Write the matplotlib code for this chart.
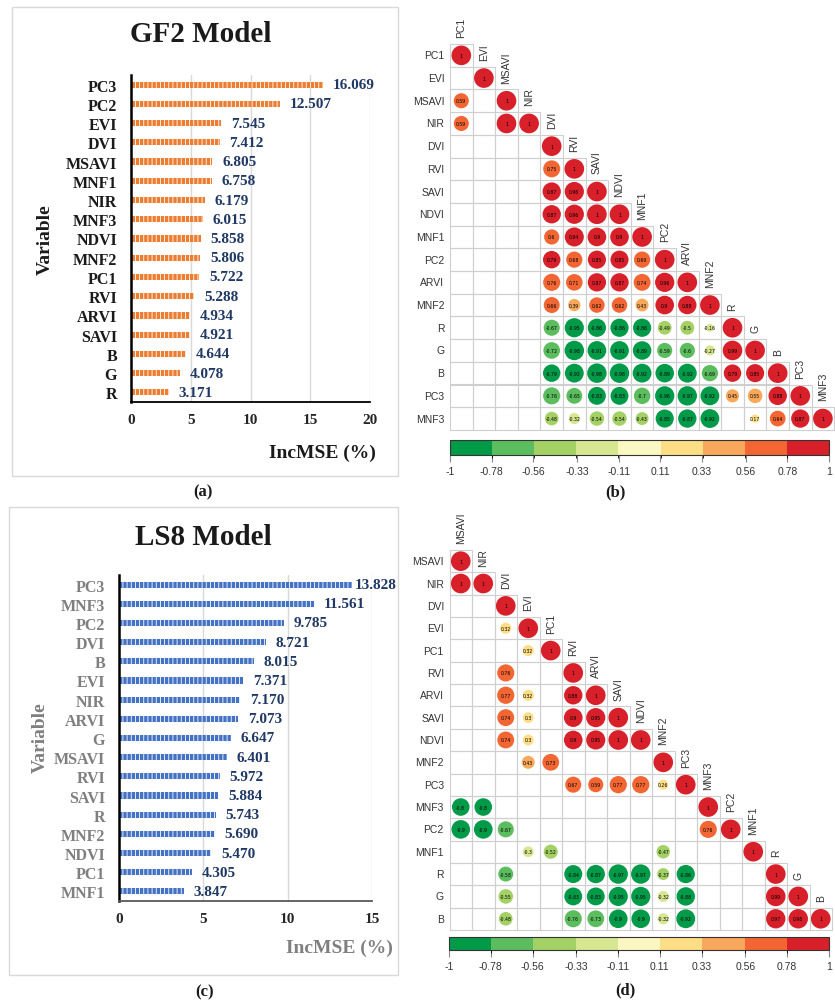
import numpy as np
import matplotlib
matplotlib.use("Agg")
import matplotlib.pyplot as plt
from matplotlib.patches import Rectangle
from matplotlib.colors import ListedColormap, BoundaryNorm
from matplotlib.colorbar import ColorbarBase

W, H = 835, 1004
plt.rcParams["hatch.linewidth"] = 0.6

# ---- importance data (top to bottom) ----
gf2_vars = ["PC3", "PC2", "EVI", "DVI", "MSAVI", "MNF1", "NIR", "MNF3", "NDVI",
            "MNF2", "PC1", "RVI", "ARVI", "SAVI", "B", "G", "R"]
gf2_inc = [16.069, 12.507, 7.545, 7.412, 6.805, 6.758, 6.179, 6.015, 5.858,
           5.806, 5.722, 5.288, 4.934, 4.921, 4.644, 4.078, 3.171]

ls8_vars = ["PC3", "MNF3", "PC2", "DVI", "B", "EVI", "NIR", "ARVI", "G", "MSAVI",
            "RVI", "SAVI", "R", "MNF2", "NDVI", "PC1", "MNF1"]
ls8_inc = [13.828, 11.561, 9.785, 8.721, 8.015, 7.371, 7.170, 7.073, 6.647, 6.401,
           5.972, 5.884, 5.743, 5.690, 5.470, 4.305, 3.847]

# ---- correlation matrices (lower triangle, None = blank) ----
_ = None
gf2_names = ["PC1", "EVI", "MSAVI", "NIR", "DVI", "RVI", "SAVI", "NDVI", "MNF1",
             "PC2", "ARVI", "MNF2", "R", "G", "B", "PC3", "MNF3"]
gf2_corr = [
    [1],
    [_, 1],
    [0.59, _, 1],
    [0.59, _, 1, 1],
    [_, _, _, _, 1],
    [_, _, _, _, 0.75, 1],
    [_, _, _, _, 0.87, 0.96, 1],
    [_, _, _, _, 0.87, 0.96, 1, 1],
    [_, _, _, _, 0.6, 0.94, 0.9, 0.9, 1],
    [_, _, _, _, 0.79, 0.68, 0.85, 0.85, 0.69, 1],
    [_, _, _, _, 0.76, 0.71, 0.87, 0.87, 0.74, 0.96, 1],
    [_, _, _, _, 0.66, 0.39, 0.62, 0.62, 0.43, 0.9, 0.88, 1],
    [_, _, _, _, -0.67, -0.95, -0.86, -0.86, -0.86, -0.49, -0.5, -0.16, 1],
    [_, _, _, _, -0.72, -0.98, -0.91, -0.91, -0.89, -0.59, -0.6, -0.27, 0.99, 1],
    [_, _, _, _, -0.79, -0.92, -0.98, -0.98, -0.92, -0.89, -0.92, -0.69, 0.79, 0.85, 1],
    [_, _, _, _, -0.76, -0.65, -0.83, -0.83, -0.7, -0.96, -0.97, -0.92, 0.45, 0.55, 0.88, 1],
    [_, _, _, _, -0.48, -0.32, -0.54, -0.54, -0.43, -0.85, -0.87, -0.92, _, 0.17, 0.64, 0.87, 1],
]

ls8_names = ["MSAVI", "NIR", "DVI", "EVI", "PC1", "RVI", "ARVI", "SAVI", "NDVI",
             "MNF2", "PC3", "MNF3", "PC2", "MNF1", "R", "G", "B"]
ls8_corr = [
    [1],
    [1, 1],
    [_, _, 1],
    [_, _, 0.32, 1],
    [_, _, _, 0.32, 1],
    [_, _, 0.76, _, _, 1],
    [_, _, 0.77, 0.32, _, 0.88, 1],
    [_, _, 0.74, 0.3, _, 0.9, 0.95, 1],
    [_, _, 0.74, 0.3, _, 0.9, 0.95, 1, 1],
    [_, _, _, 0.43, 0.73, _, _, _, _, 1],
    [_, _, _, _, _, 0.67, 0.59, 0.77, 0.77, 0.26, 1],
    [-0.8, -0.8, _, _, _, _, _, _, _, _, _, 1],
    [-0.9, -0.9, -0.67, _, _, _, _, _, _, _, _, 0.76, 1],
    [_, _, _, -0.3, -0.52, _, _, _, _, -0.47, _, _, _, 1],
    [_, _, -0.58, _, _, -0.84, -0.87, -0.97, -0.97, -0.37, -0.86, _, _, _, 1],
    [_, _, -0.55, _, _, -0.83, -0.83, -0.95, -0.95, -0.32, -0.88, _, _, _, 0.99, 1],
    [_, _, -0.48, _, _, -0.76, -0.73, -0.9, -0.9, -0.32, -0.92, _, _, _, 0.97, 0.98, 1],
]

bin_colors = ["#019a49", "#5cbd5e", "#a4d165", "#d7e691", "#fbf7c3",
              "#fddd85", "#f8a85b", "#f26634", "#d7202a"]
cbar_ticks = [-1, -0.78, -0.56, -0.33, -0.11, 0.11, 0.33, 0.56, 0.78, 1]
cbar_labels = ["-1", "-0.78", "-0.56", "-0.33", "-0.11", "0.11", "0.33", "0.56", "0.78", "1"]

serif = "Liberation Serif"
sans = "Liberation Sans"


def rect(l, t, r, b):
    return [l / W, 1 - b / H, (r - l) / W, (b - t) / H]


fig = plt.figure(figsize=(W / 100, H / 100), dpi=100)


def bar_panel(box, ax_box, names, vals, color, xmax, title, title_xy, lab_color,
              var_xy, inc_xy, cap, cap_xy, bottom_color, pads):
    fig.patches.append(Rectangle((box[0] / W, 1 - box[3] / H), (box[2] - box[0]) / W,
                                 (box[3] - box[1]) / H, transform=fig.transFigure,
                                 fill=False, ec="#d9d9d9", lw=1))
    ax = fig.add_axes(rect(*ax_box))
    n = len(names)
    y = np.arange(n)[::-1]
    ax.barh(y, vals, height=0.32, facecolor=color, edgecolor="#ffffff", hatch="|" * 4, lw=0)
    ax.set_xlim(0, xmax)
    ax.set_ylim(-0.5, n - 0.5)
    ax.set_yticks(y)
    ax.set_yticklabels(names, fontsize=11.5, fontweight="bold", family=serif, color=lab_color)
    ax.set_xticks(np.arange(0, xmax + 1, 5))
    ax.tick_params(axis="x", labelsize=11, length=0, pad=8, labelcolor="#262626")
    ax.tick_params(axis="y", length=0, pad=10)
    for t in ax.get_xticklabels():
        t.set_fontweight("bold")
        t.set_family(serif)
    ax.grid(axis="x", color="#d9d9d9", lw=1)
    ax.set_axisbelow(True)
    for s in ["top", "right"]:
        ax.spines[s].set_visible(False)
    ax.spines["left"].set_linewidth(1.8)
    ax.spines["left"].set_color("black")
    ax.spines["bottom"].set_linewidth(1.3)
    ax.spines["bottom"].set_color(bottom_color)
    for yi, v, p in zip(y, vals, pads):
        ax.annotate(f"{v:.3f}", (v, yi), xytext=(p, 0), textcoords="offset points",
                    ha="left", va="center", fontsize=11, fontweight="bold",
                    family=serif, color="#1f3864")
    fig.text(title_xy[0] / W, 1 - title_xy[1] / H, title, ha="center", va="center",
             fontsize=21, fontweight="bold", family=serif, color="#1a1a1a")
    fig.text(var_xy[0] / W, 1 - var_xy[1] / H, "Variable", rotation=90, ha="center",
             va="center", fontsize=14, fontweight="bold", family=serif, color=lab_color)
    fig.text(inc_xy[0] / W, 1 - inc_xy[1] / H, "IncMSE (%)", ha="right", va="center",
             fontsize=14, fontweight="bold", family=serif, color=lab_color)
    fig.text(cap_xy[0] / W, 1 - cap_xy[1] / H, cap, ha="center", va="center",
             fontsize=12, fontweight="bold", family=serif, color="#1a1a1a")


bar_panel((12, 8, 398, 477), (131, 76, 370, 403), gf2_vars, gf2_inc, "#ed7d31", 20,
          "GF2 Model", (201, 35), "#1a1a1a", (45, 240), (376, 453), "(a)", (203, 492),
          "black", [7] * 17)
bar_panel((9, 508, 398, 976), (119, 576, 372, 902), ls8_vars, ls8_inc, "#4472c4", 15,
          "LS8 Model", (203, 538), "#7f7f7f", (40, 738), (393, 948), "(c)", (205, 992),
          "#595959", [2] + [7] * 16)


def corr_panel(names, corr, left, top, cw, ch, cbar_box, cap, cap_xy):
    n = len(names)
    ax = fig.add_axes(rect(left, top, left + cw * n, top + ch * n))
    ax.set_xlim(0, n)
    ax.set_ylim(n, 0)
    ax.axis("off")
    xs, ys, ss, cs = [], [], [], []
    for i, row in enumerate(corr):
        for j, v in enumerate(row):
            ax.add_patch(Rectangle((j, i), 1, 1, fill=False, ec="#cfcfcf", lw=0.8,
                                   clip_on=False))
            if v is None:
                continue
            k = min(int((v + 1) / (2 / 9)), 8)
            xs.append(j + 0.5)
            ys.append(i + 0.5)
            ss.append(200 * abs(v))
            cs.append(bin_colors[k])
            ax.text(j + 0.5, i + 0.5, f"{v:g}", ha="center", va="center",
                    fontsize=3.3, color="black", clip_on=False, zorder=4)
    ax.scatter(xs, ys, s=ss, c=cs, lw=0, zorder=3, clip_on=False)
    for i, name in enumerate(names):
        ax.text(-0.25, i + 0.5, name, ha="right", va="center", fontsize=7.5,
                family=sans, color="#333333")
        ax.text(i + 0.5, i - 0.3, name, ha="center", va="bottom", rotation=90,
                fontsize=7.5, family=sans, color="#333333", clip_on=False)

    cax = fig.add_axes(rect(*cbar_box))
    cmap = ListedColormap(bin_colors)
    norm = BoundaryNorm(np.linspace(-1, 1, 10), 9)
    cb = ColorbarBase(cax, cmap=cmap, norm=norm, orientation="horizontal",
                      ticks=cbar_ticks)
    cb.set_ticklabels(cbar_labels)
    cb.outline.set_edgecolor("#333333")
    cb.outline.set_linewidth(0.8)
    cax.tick_params(length=5, width=0.8, color="#888888", labelsize=7.5, pad=3,
                    labelcolor="#333333")
    for t in cax.get_xticklabels():
        t.set_family(sans)
    fig.text(cap_xy[0] / W, 1 - cap_xy[1] / H, cap, ha="center", va="center",
             fontsize=12, fontweight="bold", family=serif, color="#1a1a1a")


corr_panel(gf2_names, gf2_corr, 450, 45, 22.6, 22.7, (450, 441, 829, 456), "(b)", (615, 492))
corr_panel(ls8_names, ls8_corr, 449.5, 551, 22.5, 22.35, (449, 938, 829, 951), "(d)", (625, 990))

fig.savefig("out.png", dpi=100)
